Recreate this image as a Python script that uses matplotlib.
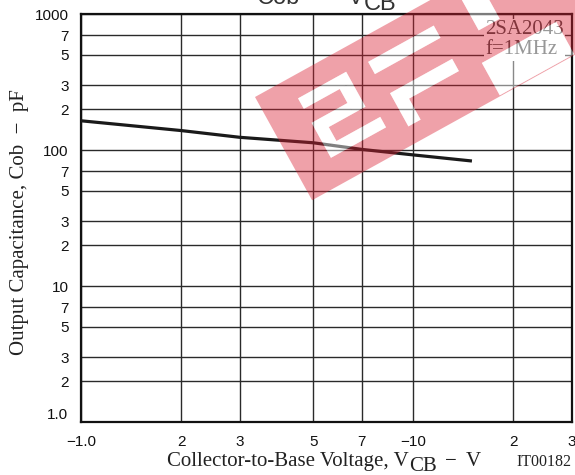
import matplotlib
matplotlib.use('Agg')
import matplotlib.pyplot as plt
from matplotlib.path import Path
from matplotlib.patches import PathPatch, Polygon
from matplotlib.ticker import NullLocator

# data (Cob vs VCB, 2SA2043)
vcb = [1, 2, 3, 5, 7, 10, 15]
cob = [164, 139, 124, 113, 101, 92, 83]

xticks = [1, 2, 3, 5, 7, 10, 20, 30]
xticklabels = ['−1.0', '2', '3', '5', '7', '−10', '2', '3']
yticks = [1, 2, 3, 5, 7, 10, 20, 30, 50, 70, 100, 200, 300, 500, 700, 1000]
yticklabels = ['1.0', '2', '3', '5', '7', '10', '2', '3', '5', '7',
               '100', '2', '3', '5', '7', '1000']

SANS = ['Liberation Sans', 'DejaVu Sans']
SERIF = ['Liberation Serif', 'DejaVu Serif']
plt.rcParams['font.family'] = SANS

W, H = 575, 475
fig = plt.figure(figsize=(W / 100, H / 100), dpi=100)
fig.patch.set_facecolor('white')


def fx(px):
    return px / W


def fy(py):
    return 1 - py / H


ax = fig.add_axes([fx(81), fy(422), (572 - 81) / W, (422 - 14) / H])
ax.set_xscale('log')
ax.set_yscale('log')
ax.set_xlim(1, 30)
ax.set_ylim(1, 1000)
ax.set_xticks(xticks, xticklabels)
ax.set_yticks(yticks, yticklabels)
ax.xaxis.set_minor_locator(NullLocator())
ax.yaxis.set_minor_locator(NullLocator())
ax.tick_params(axis='both', length=0, labelsize=11, colors='#111')
ax.tick_params(axis='x', pad=9)
ax.tick_params(axis='y', pad=9)
ax.yaxis.get_major_ticks()[0].label1.set_verticalalignment('bottom')

ax.grid(True, which='major', color='#2a2a2a', lw=1.0)
for s in ax.spines.values():
    s.set_linewidth(1.6)
    s.set_color('#111')

ax.plot(vcb, cob, color='#1a1a1a', lw=2.3, solid_capstyle='butt', zorder=3)

ax.text((485 - 81) / 491, (422 - 20) / 408, '2SA2043\nf=1MHz',
        transform=ax.transAxes, ha='left', va='top', fontsize=15,
        family=SERIF, color='#444', linespacing=1.1,
        bbox=dict(facecolor='white', edgecolor='none', pad=1), zorder=4)

renderer = fig.canvas.get_renderer()


def chain(pieces, x, y, size, family, color='#222'):
    # pieces: (text, gap before in px, drop in px)
    for s, gap, drop in pieces:
        x += gap
        t = fig.text(fx(x), fy(y + drop), s, fontsize=size, family=family,
                     ha='left', va='baseline', color=color)
        x = t.get_window_extent(renderer).x1


# title, mostly cut off by the top edge
chain([('Cob', 0, 0), ('—', 12, 0), ('V', 12, 0), ('CB', 0, 5)],
      257, 4.5, 17, SANS, color='#333')

# x label with full-size lowered subscript
chain([('Collector-to-Base Voltage, V', 0, 0), ('CB', 0, 5),
       ('−', 8, 0), ('V', 10, 0)], 167, 466, 15, SERIF)

fig.text(fx(516), fy(466), 'IT00182', fontsize=11.5, family=SERIF,
         ha='left', va='baseline', color='#222')

fig.text(fx(20), fy(222), 'Output Capacitance, Cob  −  pF', rotation=90,
         fontsize=15, family=SERIF, ha='center', va='center', color='#222')

# red watermark logo (rotated band with white letter holes)


def wm(u, v):
    return fx(255 + 0.875 * u + 0.484 * v), fy(97 - 0.484 * u + 0.875 * v)


holes = [
    (37, 92, 22, 34), (78, 92, 34, 62), (37, 78, 50, 62),
    (37, 50, 62, 78), (37, 100, 78, 90),
    (116, 191, 24, 38), (120, 191, 62, 76), (120, 134, 76, 100),
    (228, 252, 15, 50), (215, 300, 80, 117),
]
verts = [wm(0, 0), wm(440, 0), wm(440, 118), wm(0, 118), wm(0, 0)]
codes = [Path.MOVETO, Path.LINETO, Path.LINETO, Path.LINETO, Path.CLOSEPOLY]
for u0, u1, v0, v1 in holes:
    verts += [wm(u0, v0), wm(u0, v1), wm(u1, v1), wm(u1, v0), wm(u0, v0)]
    codes += [Path.MOVETO, Path.LINETO, Path.LINETO, Path.LINETO, Path.CLOSEPOLY]
band = PathPatch(Path(verts, codes), transform=fig.transFigure,
                 facecolor=(0.85, 0.13, 0.2), alpha=0.42, lw=0, zorder=5)
fig.add_artist(band)
for u0, u1, v0, v1 in holes:
    fig.add_artist(Polygon([wm(u0, v0), wm(u0, v1), wm(u1, v1), wm(u1, v0)],
                           closed=True, transform=fig.transFigure,
                           facecolor='white', alpha=0.45, lw=0, zorder=5))

fig.savefig('out.png', dpi=100)
